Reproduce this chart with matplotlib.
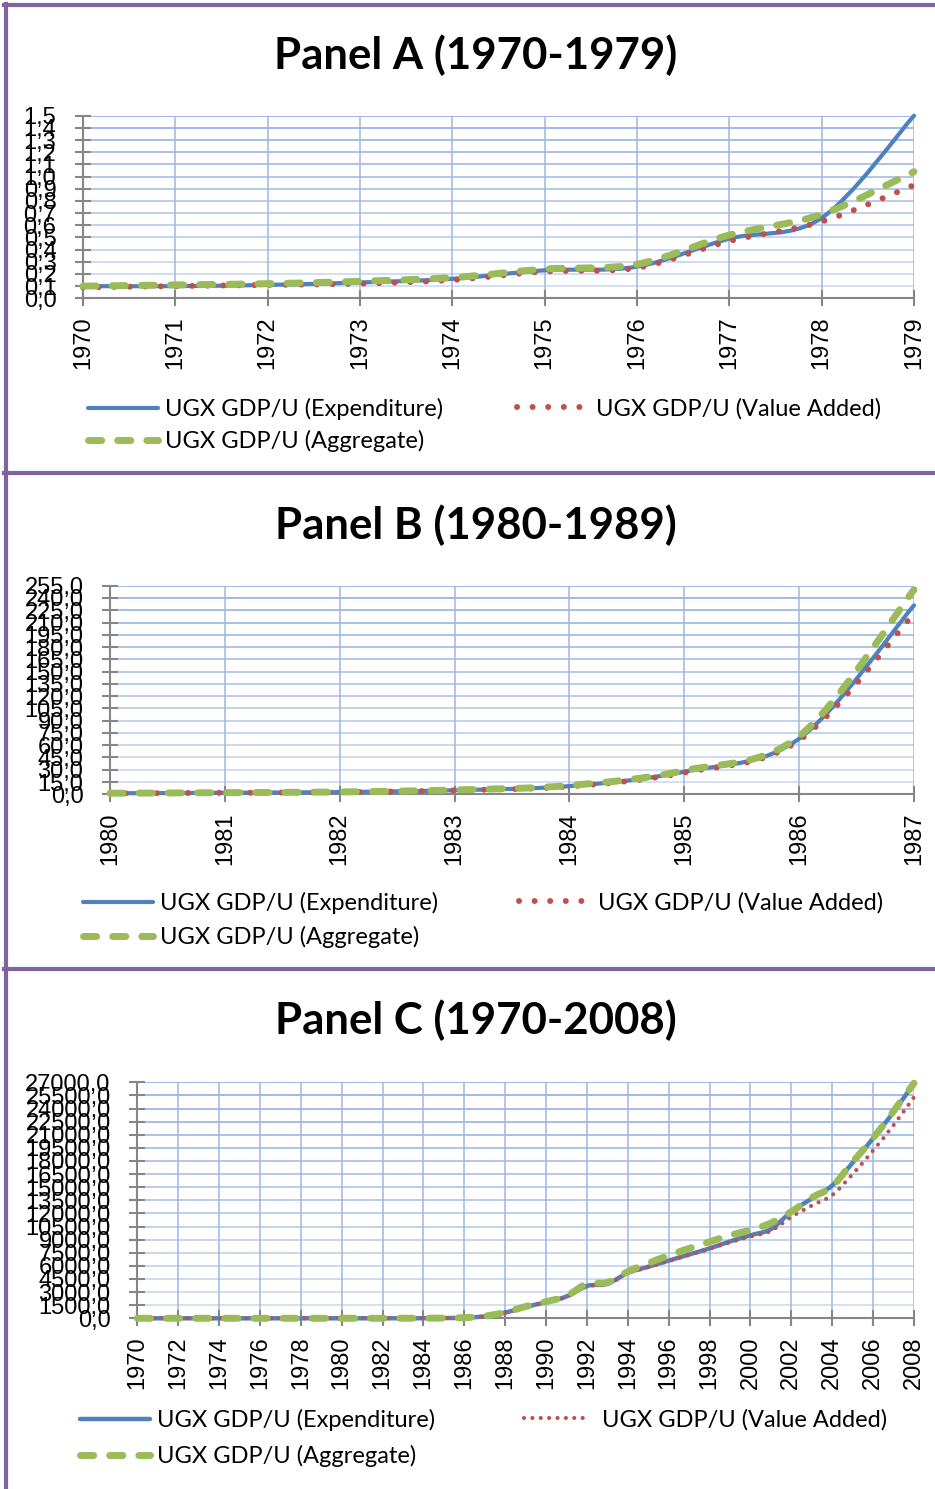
import numpy as np
import matplotlib
matplotlib.use("Agg")
from matplotlib import pyplot as plt
from matplotlib.path import Path
from matplotlib.patches import PathPatch
from matplotlib.lines import Line2D

# UGX GDP/U series, one value per year 1970-2008
years = list(range(1970, 2009))
expenditure = [0.10, 0.10, 0.11, 0.13, 0.16, 0.23, 0.26, 0.49, 0.66, 1.50,
               1.2, 1.9, 2.7, 5.0, 10.0, 27.6, 68.0, 231.0,
               650, 1300, 1850, 2500, 3700, 3950, 5200, 5900, 6600, 7300, 8000, 8800,
               9500, 10200, 12200, 13700, 15200, 17800, 20600, 23600, 26900]
value_added = [0.09, 0.10, 0.11, 0.12, 0.15, 0.22, 0.25, 0.47, 0.63, 0.93,
               1.1, 1.8, 2.6, 4.8, 9.6, 26.5, 66.0, 221.0,
               640, 1280, 1830, 2450, 3650, 3900, 5150, 5850, 6550, 7250, 7950, 8700,
               9350, 10000, 11600, 12900, 14100, 16500, 19200, 22100, 25300]
aggregate = [0.10, 0.11, 0.12, 0.14, 0.17, 0.24, 0.28, 0.52, 0.69, 1.04,
             1.3, 2.0, 2.9, 5.3, 10.8, 29.0, 71.0, 250.0,
             680, 1350, 1900, 2550, 3950, 4100, 5350, 6300, 7200, 8000, 8750, 9500,
             10100, 10900, 12200, 13800, 15100, 17900, 20600, 23700, 26900]

series_labels = ["UGX GDP/U (Expenditure)", "UGX GDP/U (Value Added)", "UGX GDP/U (Aggregate)"]
colors = ["#4F81BD", "#C0504D", "#9BBB59"]

panel_titles = ["Panel A (1970-1979)", "Panel B (1980-1989)", "Panel C (1970-2008)"]
panel_years = [(1970, 1979), (1980, 1987), (1970, 2008)]
panel_ymax = [1.5, 255, 27000]
panel_ystep = [0.1, 15, 1500]
panel_xstep = [1, 1, 2]

W, H = 935, 1489
# axes boxes in pixels: left, top, right, bottom
boxes = [(83, 115.7, 914, 298.3), (110, 585.7, 914, 794.3), (137.3, 1082.3, 914, 1318.3)]
title_y = [55, 525, 1020]
# legend: first handle x, second column handle x, first row y, row gap
legend_rows = [(88, 517, 409, 32), (83, 519, 903, 34), (80, 524, 1420, 36)]
purple = "#8064A2"
grid_col = "#9DB8E4"
axis_col = "#868686"


def smooth_path(x, y):
    # excel-like smoothed line: cubic bezier through every point
    x = np.asarray(x, float)
    y = np.asarray(y, float)
    n = len(x)
    verts = [(x[0], y[0])]
    codes = [Path.MOVETO]
    for i in range(n - 1):
        j0 = max(i - 1, 0)
        j3 = min(i + 2, n - 1)
        c1 = (x[i] + (x[i + 1] - x[j0]) / 6, y[i] + (y[i + 1] - y[j0]) / 6)
        c2 = (x[i + 1] - (x[j3] - x[i]) / 6, y[i + 1] - (y[j3] - y[i]) / 6)
        verts += [c1, c2, (x[i + 1], y[i + 1])]
        codes += [Path.CURVE4] * 3
    return Path(verts, codes)


def fmt(v):
    return ("%.1f" % v).replace(".", ",")


fig = plt.figure(figsize=(W / 100, H / 100), dpi=100)

# purple frame lines
for seg in [((4, W), (5, 5)), ((6, 6), (4, H)), ((4, W), (473, 473)), ((4, W), (969, 969))]:
    xs = [v / W for v in seg[0]]
    ys = [1 - v / H for v in seg[1]]
    fig.add_artist(Line2D(xs, ys, color=purple, lw=3, transform=fig.transFigure))

for p in range(3):
    l, t, r, b = boxes[p]
    ax = fig.add_axes([l / W, 1 - b / H, (r - l) / W, (b - t) / H])
    y0, y1 = panel_years[p]
    i0, i1 = years.index(y0), years.index(y1) + 1
    xs = years[i0:i1]
    small = p == 2

    styles = [
        dict(lw=3.2 if small else 3.0, ls="-"),
        dict(lw=3.0 if small else 4.3, ls=(0, (0.01, 2.0)) if small else (0, (0.01, 2.6))),
        dict(lw=5.0, ls=(0, (1.9, 2.3))),
    ]
    for k, vals in enumerate([expenditure, value_added, aggregate]):
        patch = PathPatch(smooth_path(xs, vals[i0:i1]), fill=False, edgecolor=colors[k],
                          lw=styles[k]["lw"], ls=styles[k]["ls"], capstyle="round",
                          joinstyle="round", clip_on=False, zorder=3 + k)
        ax.add_patch(patch)

    ax.set_xlim(y0, y1)
    ax.set_ylim(0, panel_ymax[p])
    yt = np.arange(0, panel_ymax[p] + panel_ystep[p] / 2, panel_ystep[p])
    ax.set_yticks(yt)
    ax.set_yticklabels([fmt(v) for v in yt], family="Liberation Sans", fontsize=17)
    xt = list(range(y0, y1 + 1, panel_xstep[p]))
    ax.set_xticks(xt)
    ax.set_xticklabels([str(v) for v in xt], rotation=90, family="Liberation Sans", fontsize=17)
    ax.tick_params(axis="both", direction="inout", length=11.5, width=1.5, color=axis_col)
    ax.tick_params(axis="y", pad=13.4)
    ax.tick_params(axis="x", pad=7.5)

    for s in ["top", "right"]:
        ax.spines[s].set_visible(False)
    for s in ["left", "bottom"]:
        ax.spines[s].set_color(axis_col)
        ax.spines[s].set_linewidth(1.5)
        ax.spines[s].set_zorder(2.5)

    # gridlines fade toward the bottom
    ax.set_axisbelow(True)
    ax.grid(True, color=grid_col, lw=1.4)
    ygl = ax.get_ygridlines()
    for i, g in enumerate(ygl):
        g.set_alpha(0.4 + 0.6 * i / (len(ygl) - 1))
    for g in ax.get_xgridlines():
        g.set_alpha(0.8)

    fig.text(476 / W, 1 - title_y[p] / H, panel_titles[p], ha="center", va="center",
             family="Lato", weight="bold", fontsize=31.5)

    handles = [Line2D([], [], color=colors[k], lw=styles[k]["lw"], ls=styles[k]["ls"],
                      dash_capstyle="round", solid_capstyle="round") for k in range(3)]
    fs = 17
    fpx = fs / 0.72
    hx1, hx2, ry, gap = legend_rows[p]
    top = (ry - 11) / H
    leg1 = fig.legend([handles[0], handles[2]], [series_labels[0], series_labels[2]],
                      loc="upper left", bbox_to_anchor=(hx1 / W, 1 - top), frameon=False,
                      borderpad=0, borderaxespad=0, handlelength=70 / fpx, handletextpad=0.28,
                      labelspacing=(gap - 0.92 * fpx) / fpx, prop={"family": "Lato", "size": fs})
    leg2 = fig.legend([handles[1]], [series_labels[1]],
                      loc="upper left", bbox_to_anchor=(hx2 / W, 1 - top), frameon=False,
                      borderpad=0, borderaxespad=0,
                      handlelength=(64 if small else 73) / fpx,
                      handletextpad=0.6 if small else 0.25,
                      prop={"family": "Lato", "size": fs})

fig.savefig("out.png", dpi=100)
